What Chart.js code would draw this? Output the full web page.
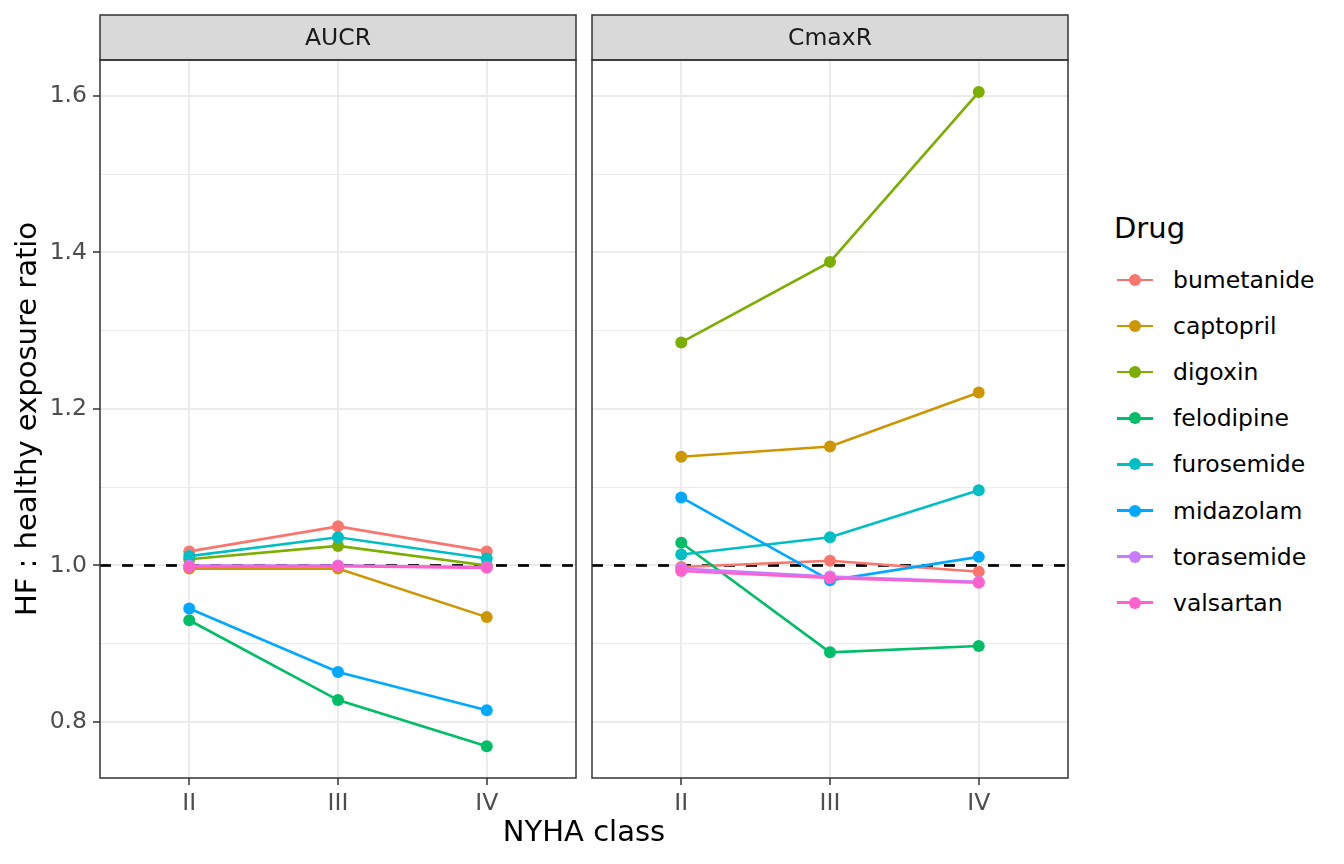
<!DOCTYPE html>
<html>
<head>
<meta charset="utf-8">
<script src="https://cdn.jsdelivr.net/npm/chart.js@4"></script>
<style>
  body { margin: 0; width: 1344px; height: 864px; background: #fff; position: relative; overflow: hidden;
         font-family: 'DejaVu Sans', sans-serif; }
  canvas { position: absolute; top: 0; }
  #xTitle { position: absolute; left: 384px; width: 400px; top: 814px; text-align: center; font-size: 29px; color: #000; }
  #legend { position: absolute; left: 1114px; top: 0; }
  .legTitle { position: absolute; left: 0; top: 211px; font-size: 29px; color: #000; white-space: nowrap; }
  .legItem { position: absolute; left: 0; width: 220px; height: 30px; }
  .legLine { position: absolute; left: 3px; width: 36px; height: 2.6px; top: 13.7px; }
  .legDot { position: absolute; left: 15px; width: 12px; height: 12px; border-radius: 50%; top: 9px; }
  .legText { position: absolute; left: 59px; top: 0; font-size: 23.5px; color: #000; line-height: 30px; white-space: nowrap; }
</style>
</head>
<body>
<canvas id="panelAUCR" width="582" height="864" style="left:0px"></canvas>
<canvas id="panelCmaxR" width="494" height="864" style="left:580px"></canvas>
<div id="xTitle">NYHA class</div>
<div id="legend"></div>
<script>
// categories
const nyhaClasses = ['II', 'III', 'IV'];
const drugs = ['bumetanide', 'captopril', 'digoxin', 'felodipine', 'furosemide', 'midazolam', 'torasemide', 'valsartan'];
const drugColors = ['#F8766D', '#CD9600', '#7CAE00', '#00BE67', '#00BFC4', '#00A9FF', '#C77CFF', '#FF61CC'];

// HF : healthy ratio per drug (rows follow drugs), columns follow nyhaClasses
const aucrValues = [
    [1.018, 1.050, 1.018],
    [0.996, 0.996, 0.934],
    [1.008, 1.025, 1.000],
    [0.930, 0.828, 0.769],
    [1.012, 1.036, 1.009],
    [0.945, 0.864, 0.815],
    [1.000, 1.000, 0.998],
    [0.998, 0.999, 0.997]
];
const cmaxrValues = [
    [0.998, 1.006, 0.992],
    [1.139, 1.152, 1.221],
    [1.285, 1.388, 1.605],
    [1.029, 0.889, 0.897],
    [1.014, 1.036, 1.096],
    [1.087, 0.981, 1.011],
    [0.996, 0.986, 0.979],
    [0.993, 0.984, 0.978]
];

// axis ticks
const yMajorTicks = [0.8, 1.0, 1.2, 1.4, 1.6];
const yMinorTicks = [0.9, 1.1, 1.3, 1.5];
const refLine = 1.0;

function isMajor(v) {
    return yMajorTicks.some(m => Math.abs(m - v) < 1e-6);
}

function buildDatasets(values) {
    return drugs.map((drug, i) => ({
        label: drug,
        data: values[i].map((v, j) => ({ x: j + 1, y: v })),
        borderColor: drugColors[i],
        backgroundColor: drugColors[i],
        borderWidth: 2.6,
        pointRadius: 6,
        pointHoverRadius: 6,
        pointBorderWidth: 0,
        order: drugs.length - i
    }));
}

// strip, dashed reference line and panel border
const facetPlugin = {
    id: 'facet',
    beforeDatasetsDraw(chart) {
        const { ctx, chartArea, scales } = chart;
        const y = scales.y.getPixelForValue(refLine);
        ctx.save();
        ctx.strokeStyle = '#000';
        ctx.lineWidth = 2.7;
        ctx.setLineDash([11, 11]);
        ctx.beginPath();
        ctx.moveTo(chartArea.left, y);
        ctx.lineTo(chartArea.right, y);
        ctx.stroke();
        ctx.restore();
    },
    afterDraw(chart) {
        const { ctx, chartArea } = chart;
        const a = chartArea;
        ctx.save();
        ctx.fillStyle = '#D9D9D9';
        ctx.fillRect(a.left, 15, a.right - a.left, a.top - 15);
        ctx.strokeStyle = '#333333';
        ctx.lineWidth = 1.5;
        ctx.strokeRect(a.left, 15, a.right - a.left, a.top - 15);
        ctx.strokeRect(a.left, a.top, a.right - a.left, a.bottom - a.top);
        ctx.fillStyle = '#1A1A1A';
        ctx.font = "23.5px 'DejaVu Sans'";
        ctx.textAlign = 'center';
        ctx.textBaseline = 'middle';
        ctx.fillText(chart.options.plugins.facet.label, (a.left + a.right) / 2, (15 + a.top) / 2 + 1);
        ctx.restore();
    }
};

function makeOptions(label, showY) {
    return {
        responsive: false,
        animation: false,
        devicePixelRatio: 1,
        layout: { padding: { top: 60, right: 0, left: 0, bottom: 0 } },
        plugins: {
            legend: { display: false },
            tooltip: { enabled: false },
            facet: { label: label }
        },
        scales: {
            x: {
                type: 'linear',
                min: 0.4,
                max: 3.6,
                afterBuildTicks: s => { s.ticks = nyhaClasses.map((c, i) => ({ value: i + 1 })); },
                afterFit: s => { s.height = 86; },
                border: { display: false },
                grid: { color: '#EBEBEB', lineWidth: 2, tickLength: 7, tickColor: '#333333', tickWidth: 1.5 },
                ticks: {
                    color: '#4D4D4D',
                    font: { family: 'DejaVu Sans', size: 23.5 },
                    padding: 5,
                    maxRotation: 0,
                    callback: v => nyhaClasses[Math.round(v) - 1]
                }
            },
            y: {
                min: 0.7284,
                max: 1.646,
                afterBuildTicks: s => {
                    s.ticks = yMajorTicks.concat(yMinorTicks).sort((a, b) => a - b).map(v => ({ value: v }));
                },
                afterFit: s => { s.width = showY ? 100 : 12; },
                border: { display: false },
                grid: {
                    color: '#EBEBEB',
                    lineWidth: c => isMajor(c.tick.value) ? 2 : 1.1,
                    tickLength: showY ? 7 : 0,
                    tickColor: c => (showY && isMajor(c.tick.value)) ? '#333333' : 'rgba(0,0,0,0)',
                    tickWidth: 1.5
                },
                ticks: {
                    display: showY,
                    color: '#4D4D4D',
                    font: { family: 'DejaVu Sans', size: 23.5 },
                    padding: 6,
                    callback: v => isMajor(v) ? v.toFixed(1) : ''
                },
                title: {
                    display: showY,
                    text: 'HF : healthy exposure ratio',
                    color: '#000',
                    font: { family: 'DejaVu Sans', size: 29 },
                    padding: { top: 11, bottom: 0 }
                }
            }
        }
    };
}

function createPanel(id, label, values, showY) {
    const ctx = document.getElementById(id).getContext('2d');
    new Chart(ctx, {
        type: 'line',
        data: { datasets: buildDatasets(values) },
        options: makeOptions(label, showY),
        plugins: [facetPlugin]
    });
}

function buildLegend() {
    const box = document.getElementById('legend');
    let html = '<div class="legTitle">Drug</div>';
    drugs.forEach((d, i) => {
        const top = 265 + i * 46.1;
        html += '<div class="legItem" style="top:' + top + 'px">' +
            '<div class="legLine" style="background:' + drugColors[i] + '"></div>' +
            '<div class="legDot" style="background:' + drugColors[i] + '"></div>' +
            '<div class="legText">' + d + '</div></div>';
    });
    box.innerHTML = html;
}

window.onload = function() {
    createPanel('panelAUCR', 'AUCR', aucrValues, true);
    createPanel('panelCmaxR', 'CmaxR', cmaxrValues, false);
    buildLegend();
};
</script>
</body>
</html>
